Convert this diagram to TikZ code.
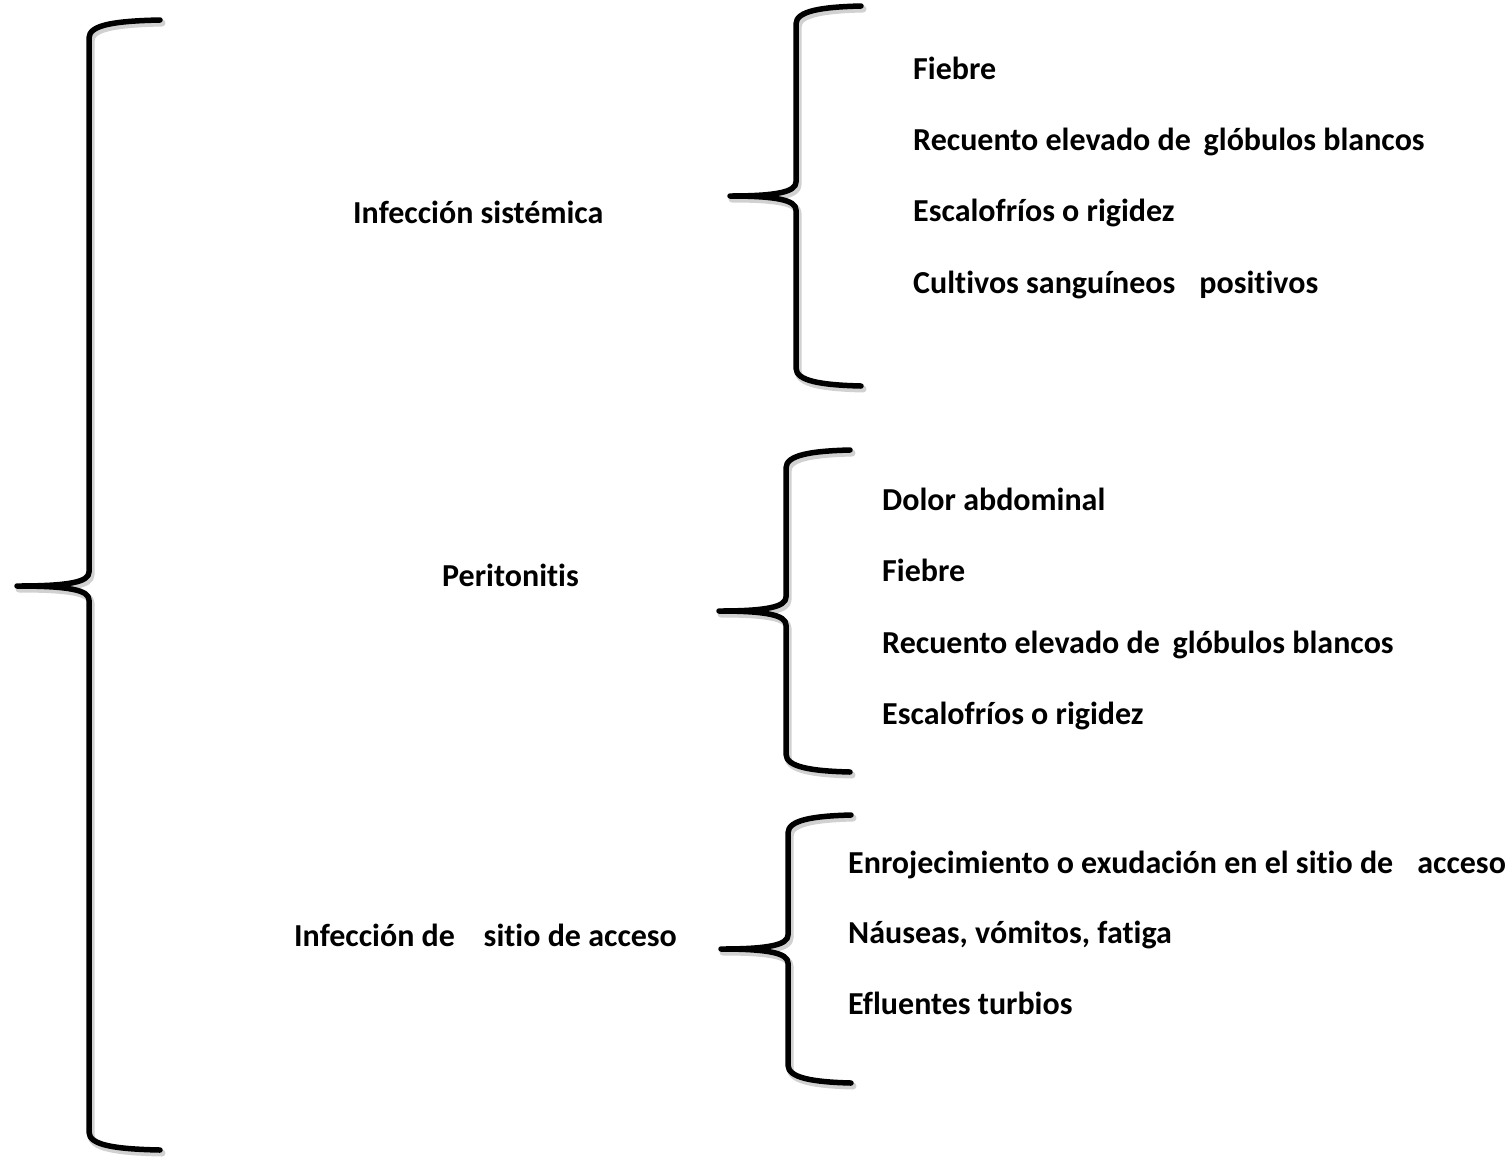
\documentclass[tikz,border=0pt]{standalone}
\usepackage{fontspec}
\setmainfont{Carlito}[Ligatures={NoCommon,NoContextual}]
\begin{document}
\begin{tikzpicture}[x=1pt,y=-1pt,
  bracestyle/.style={line width=5.5pt,line cap=round,line join=round,black},
  braceshadow/.style={line width=7pt,line cap=round,line join=round,black!18},
  lbl/.style={anchor=base west,inner sep=0pt,font=\fontsize{32}{36}\selectfont\bfseries}]
\useasboundingbox (0,0) rectangle (1511,1160);
\newcommand{\drawbrace}[7][bracestyle]{%
  \draw[#1] (#2,#3) .. controls ({#4+25},{#3+1}) and (#4,{#3+5}) .. (#4,{#3+18})
    -- (#4,{#6-14}) .. controls (#4,{#6-4}) and ({#4-20},#6) .. (#5,#6)
    .. controls ({#4-20},#6) and (#4,{#6+4}) .. (#4,{#6+14})
    -- (#4,{#7-18}) .. controls (#4,{#7-5}) and ({#4+25},{#7-1}) .. (#2,#7);}
% shadows
\begin{scope}[shift={(2,3)}]
\drawbrace[braceshadow]{160}{20}{89}{17}{586}{1150}
\drawbrace[braceshadow]{861}{6}{796}{730}{196}{386}
\drawbrace[braceshadow]{850}{450}{786}{719}{611}{772}
\drawbrace[braceshadow]{851}{815}{788}{721}{949}{1083}
\end{scope}
% braces
\drawbrace{160}{20}{89}{17}{586}{1150}
\drawbrace{861}{6}{796}{730}{196}{386}
\drawbrace{850}{450}{786}{719}{611}{772}
\drawbrace{851}{815}{788}{721}{949}{1083}
% category labels
\node[lbl] (sis) at (353,223) {Infección sistémica};
\node[lbl] (per) at (442,586) {Peritonitis};
\node[lbl] (acc) at (294,946) {Infección de\hspace{0.9em}sitio de acceso};
% systemic items
\node[lbl] (s1) at (913,79) {Fiebre};
\node[lbl] (s2) at (913,150) {Recuento elevado de\hspace{0.4em}glóbulos blancos};
\node[lbl] (s3) at (913,221) {Escalofríos o rigidez};
\node[lbl] (s4) at (913,293) {Cultivos sanguíneos\hspace{0.75em}positivos};
% peritonitis items
\node[lbl] (p1) at (882,510) {Dolor abdominal};
\node[lbl] (p2) at (882,581) {Fiebre};
\node[lbl] (p3) at (882,653) {Recuento elevado de\hspace{0.4em}glóbulos blancos};
\node[lbl] (p4) at (882,724) {Escalofríos o rigidez};
% access site items
\node[lbl] (a1) at (848,873) {Enrojecimiento o exudación en el sitio de\hspace{0.75em}acceso};
\node[lbl] (a2) at (848,943) {Náuseas, vómitos, fatiga};
\node[lbl] (a3) at (848,1014) {Efluentes turbios};
\end{tikzpicture}
\end{document}
